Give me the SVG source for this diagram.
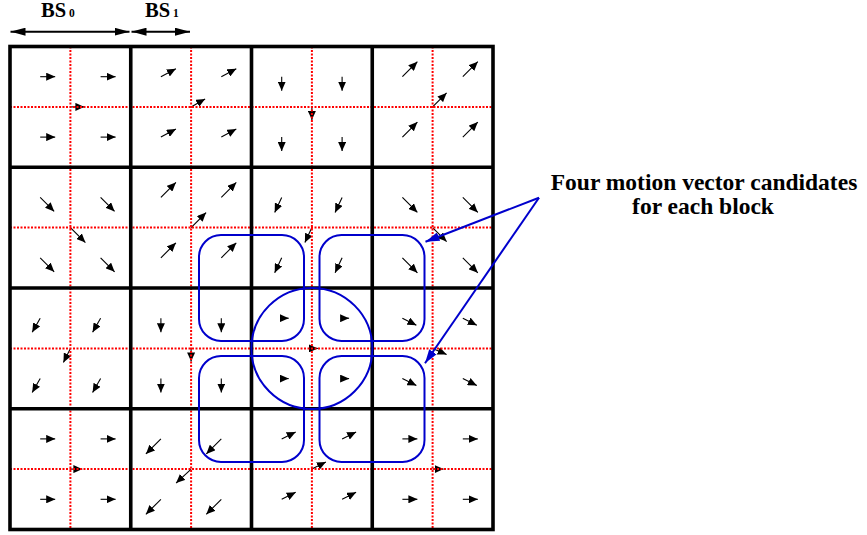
<svg xmlns="http://www.w3.org/2000/svg" width="867" height="535" viewBox="0 0 867 535">
<defs>
<marker id="mv" markerUnits="userSpaceOnUse" markerWidth="9" markerHeight="8" refX="9" refY="4" orient="auto"><path d="M0,0 L9,4 L0,8 z" fill="#000"/></marker>
<marker id="bs" markerUnits="userSpaceOnUse" markerWidth="15" markerHeight="8" refX="15" refY="4" orient="auto-start-reverse"><path d="M0,0 L15,4 L0,8 z" fill="#000"/></marker>
<marker id="bl" markerUnits="userSpaceOnUse" markerWidth="14" markerHeight="9" refX="14" refY="4.5" orient="auto"><path d="M0,0 L14,4.5 L0,9 z" fill="#0000cc"/></marker>
</defs>
<style>
.v{stroke:#000;stroke-width:1.1;marker-end:url(#mv)}
.dot{stroke:#ff0000;stroke-width:2;stroke-dasharray:2 1.5;fill:none}
.g{stroke:#000;stroke-width:3.6;fill:none}
.c{stroke:#0000cc;stroke-width:2;fill:none}
.lead{stroke:#0000cc;stroke-width:2;marker-end:url(#bl)}
.t{font-family:"Liberation Serif","Times New Roman",serif;font-weight:bold;fill:#000}
</style>
<rect width="867" height="535" fill="#fff"/>
<g id="motion-vectors">
<g id="b00"><line class="v" x1="40.2" y1="76.7" x2="55.2" y2="76.7"/><line class="v" x1="100.6" y1="76.7" x2="115.6" y2="76.7"/><line class="v" x1="40.2" y1="137.1" x2="55.2" y2="137.1"/><line class="v" x1="100.6" y1="137.1" x2="115.6" y2="137.1"/><line class="v" x1="70.4" y1="106.9" x2="84.4" y2="106.9"/></g>
<g id="b01"><line class="v" x1="160.9" y1="76.7" x2="175.9" y2="68.7"/><line class="v" x1="221.3" y1="76.7" x2="236.3" y2="68.7"/><line class="v" x1="160.9" y1="137.1" x2="175.9" y2="129.1"/><line class="v" x1="221.3" y1="137.1" x2="236.3" y2="129.1"/><line class="v" x1="191.1" y1="106.9" x2="205.1" y2="98.9"/></g>
<g id="b02"><line class="v" x1="281.7" y1="76.7" x2="281.7" y2="90.7"/><line class="v" x1="342.1" y1="76.7" x2="342.1" y2="90.7"/><line class="v" x1="281.7" y1="137.1" x2="281.7" y2="151.1"/><line class="v" x1="342.1" y1="137.1" x2="342.1" y2="151.1"/><line class="v" x1="311.9" y1="106.9" x2="311.9" y2="119.9"/></g>
<g id="b03"><line class="v" x1="402.4" y1="76.7" x2="417.4" y2="61.7"/><line class="v" x1="462.8" y1="76.7" x2="477.8" y2="61.7"/><line class="v" x1="402.4" y1="137.1" x2="417.4" y2="122.1"/><line class="v" x1="462.8" y1="137.1" x2="477.8" y2="122.1"/><line class="v" x1="432.6" y1="106.9" x2="446.6" y2="92.9"/></g>
<g id="b10"><line class="v" x1="40.2" y1="197.4" x2="54.2" y2="211.4"/><line class="v" x1="100.6" y1="197.4" x2="114.6" y2="211.4"/><line class="v" x1="40.2" y1="257.8" x2="54.2" y2="271.8"/><line class="v" x1="100.6" y1="257.8" x2="114.6" y2="271.8"/><line class="v" x1="70.4" y1="227.6" x2="85.4" y2="242.6"/></g>
<g id="b11"><line class="v" x1="160.9" y1="197.4" x2="175.9" y2="182.4"/><line class="v" x1="221.3" y1="197.4" x2="236.3" y2="182.4"/><line class="v" x1="160.9" y1="257.8" x2="175.9" y2="242.8"/><line class="v" x1="221.3" y1="257.8" x2="236.3" y2="242.8"/><line class="v" x1="191.1" y1="227.6" x2="206.1" y2="212.6"/></g>
<g id="b12"><line class="v" x1="281.7" y1="197.4" x2="274.7" y2="212.4"/><line class="v" x1="342.1" y1="197.4" x2="335.1" y2="212.4"/><line class="v" x1="281.7" y1="257.8" x2="274.7" y2="272.8"/><line class="v" x1="342.1" y1="257.8" x2="335.1" y2="272.8"/><line class="v" x1="311.9" y1="227.6" x2="304.9" y2="242.6"/></g>
<g id="b13"><line class="v" x1="402.4" y1="197.4" x2="417.4" y2="212.4"/><line class="v" x1="462.8" y1="197.4" x2="477.8" y2="212.4"/><line class="v" x1="402.4" y1="257.8" x2="417.4" y2="272.8"/><line class="v" x1="462.8" y1="257.8" x2="477.8" y2="272.8"/><line class="v" x1="432.6" y1="227.6" x2="446.6" y2="241.6"/></g>
<g id="b20"><line class="v" x1="40.2" y1="318.2" x2="32.2" y2="332.2"/><line class="v" x1="100.6" y1="318.2" x2="92.6" y2="332.2"/><line class="v" x1="40.2" y1="378.6" x2="32.2" y2="392.6"/><line class="v" x1="100.6" y1="378.6" x2="92.6" y2="392.6"/><line class="v" x1="70.4" y1="348.4" x2="63.4" y2="362.4"/></g>
<g id="b21"><line class="v" x1="160.9" y1="318.2" x2="160.9" y2="332.2"/><line class="v" x1="221.3" y1="318.2" x2="221.3" y2="332.2"/><line class="v" x1="160.9" y1="378.6" x2="160.9" y2="392.6"/><line class="v" x1="221.3" y1="378.6" x2="221.3" y2="392.6"/><line class="v" x1="191.1" y1="348.4" x2="191.1" y2="361.4"/></g>
<g id="b22"><line class="v" x1="281.7" y1="318.2" x2="288.7" y2="318.2"/><line class="v" x1="342.1" y1="318.2" x2="349.1" y2="318.2"/><line class="v" x1="281.7" y1="378.6" x2="288.7" y2="378.6"/><line class="v" x1="342.1" y1="378.6" x2="349.1" y2="378.6"/><line class="v" x1="311.9" y1="348.4" x2="317.9" y2="348.4"/></g>
<g id="b23"><line class="v" x1="402.4" y1="318.2" x2="416.4" y2="325.2"/><line class="v" x1="462.8" y1="318.2" x2="476.8" y2="325.2"/><line class="v" x1="402.4" y1="378.6" x2="416.4" y2="385.6"/><line class="v" x1="462.8" y1="378.6" x2="476.8" y2="385.6"/><line class="v" x1="432.6" y1="348.4" x2="446.6" y2="354.4"/></g>
<g id="b30"><line class="v" x1="40.2" y1="438.9" x2="55.2" y2="438.9"/><line class="v" x1="100.6" y1="438.9" x2="115.6" y2="438.9"/><line class="v" x1="40.2" y1="499.3" x2="55.2" y2="499.3"/><line class="v" x1="100.6" y1="499.3" x2="115.6" y2="499.3"/><line class="v" x1="70.4" y1="469.1" x2="82.4" y2="469.1"/></g>
<g id="b31"><line class="v" x1="160.9" y1="438.9" x2="145.9" y2="453.9"/><line class="v" x1="221.3" y1="438.9" x2="206.3" y2="453.9"/><line class="v" x1="160.9" y1="499.3" x2="145.9" y2="514.3"/><line class="v" x1="221.3" y1="499.3" x2="206.3" y2="514.3"/><line class="v" x1="191.1" y1="469.1" x2="176.1" y2="483.1"/></g>
<g id="b32"><line class="v" x1="281.7" y1="438.9" x2="295.7" y2="431.9"/><line class="v" x1="342.1" y1="438.9" x2="356.1" y2="431.9"/><line class="v" x1="281.7" y1="499.3" x2="295.7" y2="492.3"/><line class="v" x1="342.1" y1="499.3" x2="356.1" y2="492.3"/><line class="v" x1="311.9" y1="469.1" x2="325.9" y2="462.1"/></g>
<g id="b33"><line class="v" x1="402.4" y1="438.9" x2="417.4" y2="438.9"/><line class="v" x1="462.8" y1="438.9" x2="477.8" y2="438.9"/><line class="v" x1="402.4" y1="499.3" x2="417.4" y2="499.3"/><line class="v" x1="462.8" y1="499.3" x2="477.8" y2="499.3"/><line class="v" x1="432.6" y1="469.1" x2="443.6" y2="469.1"/></g>
</g>
<g id="sub-grid" class="dot">
<path d="M70.4,46.5V529.5M191.1,46.5V529.5M311.9,46.5V529.5M432.6,46.5V529.5M10,106.9H493M10,227.6H493M10,348.4H493M10,469.1H493"/>
</g>
<g id="block-grid" class="g">
<rect x="10" y="46.5" width="483" height="483"/>
<path d="M130.75,46.5V529.5M251.5,46.5V529.5M372.25,46.5V529.5M10,167.25H493M10,288H493M10,408.75H493"/>
</g>
<g id="candidates">
<rect id="cand1" class="c" x="199" y="235" width="105" height="106" rx="22"/>
<rect id="cand2" class="c" x="319.5" y="235" width="105" height="106" rx="22"/>
<rect id="cand3" class="c" x="199" y="356" width="105" height="106" rx="22"/>
<rect id="cand4" class="c" x="319.5" y="356" width="105" height="106" rx="22"/>
<circle id="current" class="c" cx="311.9" cy="348.4" r="60.5"/>
</g>
<g id="label">
<text class="t" font-size="23.5" text-anchor="middle" x="704" y="190">Four motion vector candidates</text>
<text class="t" font-size="23.5" text-anchor="middle" x="703" y="214">for each block</text>
</g>
<g id="bs-labels">
<text class="t" font-size="20.5" x="41" y="17">BS<tspan font-size="11.5" dx="3">0</tspan></text>
<text class="t" font-size="20.5" x="145" y="17">BS<tspan font-size="11.5" dx="3">1</tspan></text>
</g>
<g id="connectors">
<line class="lead" x1="539" y1="197.7" x2="425.5" y2="241.7"/>
<line class="lead" x1="539" y1="197.7" x2="425" y2="363.3"/>
<line x1="10.5" y1="31.7" x2="129.5" y2="31.7" stroke="#000" stroke-width="2" marker-start="url(#bs)" marker-end="url(#bs)"/>
<line x1="131.5" y1="31.7" x2="190" y2="31.7" stroke="#000" stroke-width="2" marker-start="url(#bs)" marker-end="url(#bs)"/>
</g>
</svg>
